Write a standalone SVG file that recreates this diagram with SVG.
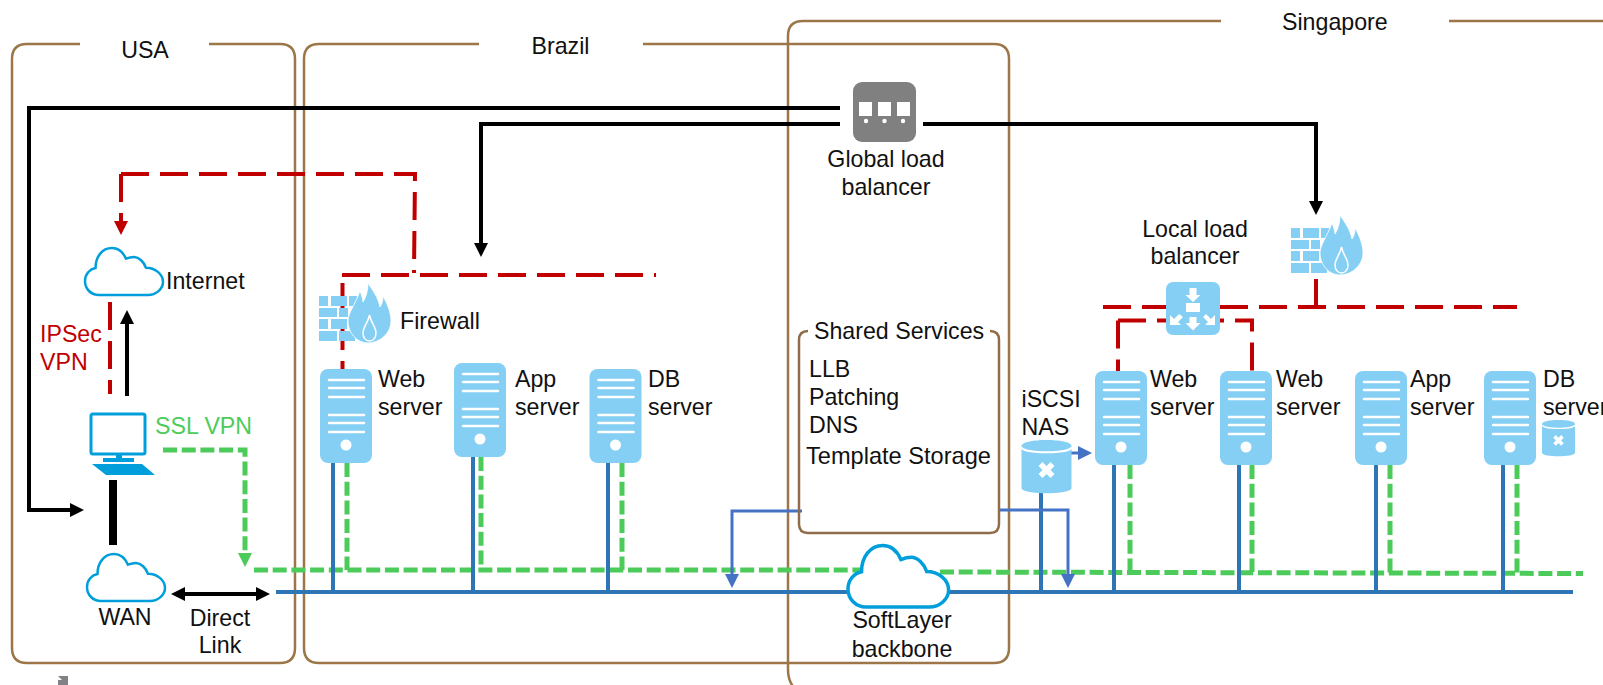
<svg xmlns="http://www.w3.org/2000/svg" width="1603" height="685" viewBox="0 0 1603 685">
<style>
text{font-family:"Liberation Sans",Arial,sans-serif;font-size:23.2px;fill:#111}
.mid{text-anchor:middle}
.region{fill:none;stroke:#9C7649;stroke-width:2.5}
.blk{fill:none;stroke:#000;stroke-width:4}
.red{fill:none;stroke:#C00000;stroke-width:4;stroke-dasharray:28 11}
.grn{fill:none;stroke:#4CCB5A;stroke-width:5;stroke-dasharray:14 4.7}
.bus{fill:none;stroke:#2E75B6;stroke-width:4}
.lnk{fill:none;stroke:#4472C4;stroke-width:3}
.cloud{fill:#fff;stroke:#009FDB;stroke-width:2.5}
.ic{fill:#85CFF5}
.wl{stroke:#fff;stroke-width:2.5;stroke-linecap:round}
</style>
<defs>
<marker id="aB" markerUnits="userSpaceOnUse" markerWidth="15" markerHeight="15" refX="8" refY="7" orient="auto-start-reverse" viewBox="0 0 15 14"><path d="M0,0L14,7L0,14Z" fill="#000"/></marker>
<marker id="aR" markerUnits="userSpaceOnUse" markerWidth="15" markerHeight="15" refX="8" refY="7" orient="auto" viewBox="0 0 15 14"><path d="M0,0L14,7L0,14Z" fill="#C00000"/></marker>
<marker id="aG" markerUnits="userSpaceOnUse" markerWidth="15" markerHeight="15" refX="8" refY="7" orient="auto" viewBox="0 0 15 14"><path d="M0,0L14,7L0,14Z" fill="#4CCB5A"/></marker>
<marker id="aL" markerUnits="userSpaceOnUse" markerWidth="15" markerHeight="15" refX="8" refY="7" orient="auto" viewBox="0 0 15 14"><path d="M0,0L14,7L0,14Z" fill="#4472C4"/></marker>
<path id="cloudp" d="M14,47C6,47 0,41 0,33C0,26 5,21 10.500,20C10.500,9 17,0 27,0C33,0 38,4 41,10.700C44,9.500 46,9 49,9C54,9 59,14 61,19.800C70,19.800 78,26 78,34C78,41 71,47 63,47Z" vector-effect="non-scaling-stroke"/>
<g id="server">
<rect width="52" height="94" rx="8" class="ic"/>
<path class="wl" d="M9,11H44M9,19H44M9,28H44M9,46H44M9,54H44M9,63H44"/>
<circle cx="26" cy="76" r="5.500" fill="#fff"/>
</g>
<g id="fw">
<path class="ic" d="M0,13h9v10h-9zM12,13h16v10h-16zM30,13h8v10h-8zM0,25h18v9h-18zM20,25h9v9h-9zM0,36h9v10h-9zM12,36h16v10h-16zM0,48h18v10h-18zM20,48h16v10h-16z"/>
<path class="ic" stroke="#fff" stroke-width=".8" d="M49,0C54,8 59,14 61,24C63,21 64,18 64,13C69,22 72,30 72,38C72,50 61,60 49,60C38,60 29,50 29,38C29,30 36,22 41,8C43,13 44,17 44,19C47,14 49,8 49,0Z"/>
<path class="ic" stroke="#fff" stroke-width="1.500" d="M50.500,32C52,40 57,44 57,50C57,55 54,58 50.500,58C47,58 44,55 44,50C44,44 49,40 50.500,32Z"/>
</g>
<g id="cyl">
<path class="ic" d="M0,6C0,-2 50,-2 50,6V48C50,55 0,55 0,48Z"/>
<path d="M0,7C0,14 50,14 50,7" fill="none" stroke="#fff" stroke-width="2"/>
<path d="M19,24L31,36M31,24L19,36" stroke="#fff" stroke-width="5.500"/>
</g>
</defs>

<g id="region-usa"><path class="region" d="M80,44H27Q12,44 12,59V648Q12,663 27,663H280Q295,663 295,648V59Q295,44 280,44H209"/></g>
<g id="region-brazil"><path class="region" d="M479,44H319Q304,44 304,59V648Q304,663 319,663H994Q1009,663 1009,648V59Q1009,44 994,44H643"/></g>
<g id="region-singapore"><path class="region" d="M1221,21H803Q788,21 788,36V670Q788,682 796,690"/><path class="region" d="M1449,21H1603"/></g>

<g id="connectors">
<path class="blk" d="M840,108H29V510H78" marker-end="url(#aB)"/>
<path class="blk" d="M840,124H481V251" marker-end="url(#aB)"/>
<path class="blk" d="M923,124H1316V209" marker-end="url(#aB)"/>
<path class="blk" d="M127,396V316" marker-end="url(#aB)"/>
<path d="M113,480V545" stroke="#000" stroke-width="8" fill="none"/>
<path class="blk" d="M177,594H264" marker-start="url(#aB)" marker-end="url(#aB)"/>
<path class="red" d="M121,174V229" marker-end="url(#aR)"/>
<path class="red" d="M121,174H415L414,273"/>
<path class="red" d="M342,275H656"/>
<path class="red" d="M342.500,283V369"/>
<path class="red" d="M110,302V394"/>
<path class="red" d="M1103,307H1517"/>
<path class="red" d="M1316,279V307" style="stroke-dasharray:none"/>
<path class="red" d="M1316,240V272" style="stroke-dasharray:6 8"/>
<path class="red" d="M1118,320.500V371"/>
<path class="red" d="M1118,320.500H1252V371"/>
<path class="grn" d="M163,450H245V561" marker-end="url(#aG)"/>
<path class="grn" d="M254,570H865"/>
<path class="grn" d="M940,572L1583,573.500"/>
<path class="grn" d="M347,463V570"/><path class="grn" d="M481,457V570"/><path class="grn" d="M622,463V570"/>
<path class="grn" d="M1130,465V572"/><path class="grn" d="M1252,465V572"/><path class="grn" d="M1390,465V573"/><path class="grn" d="M1517,465V573"/>
<path class="bus" d="M276,592H1573"/>
<path class="bus" d="M333,463V592M473,457V592M608,463V592M1041,493V592M1114,465V592M1239,465V592M1376,465V592M1503,465V592"/>
<path class="lnk" d="M802,511H732V582" marker-end="url(#aL)"/>
<path class="lnk" d="M999,510H1068V582" marker-end="url(#aL)"/>
<path class="lnk" d="M1071,453H1086" marker-end="url(#aL)"/>
</g>

<g id="internet"><use href="#cloudp" class="cloud" transform="translate(85,248)"/><text x="166" y="289">Internet</text></g>
<g id="ipsec"><text x="40" y="342" style="fill:#C00000">IPSec</text><text x="40" y="370" style="fill:#C00000">VPN</text></g>
<g id="ssl"><text x="155" y="434" style="fill:#4CCB5A">SSL VPN</text></g>
<g id="workstation">
<rect x="91" y="414" width="54" height="40" rx="2" fill="none" stroke="#009FDB" stroke-width="3"/>
<path fill="#009FDB" d="M116,455h6v3h12v4h-31v-4h13zM92,464H142L155,475H106Z"/>
</g>
<g id="wan"><use href="#cloudp" class="cloud" transform="translate(87,554)"/><text class="mid" x="125" y="625">WAN</text></g>
<g id="direct-link"><text class="mid" x="220" y="626">Direct</text><text class="mid" x="220" y="653">Link</text></g>
<path id="fragment" d="M58,676L68,676V685H58V680H62Z" fill="#808285"/>

<g id="fw-brazil"><use href="#fw" transform="translate(319,283)"/><text x="400" y="329">Firewall</text></g>
<g id="web-brazil"><use href="#server" transform="translate(320,369)"/><text x="378" y="387">Web</text><text x="378" y="415">server</text></g>
<g id="app-brazil"><use href="#server" transform="translate(454,363)"/><text x="515" y="387">App</text><text x="515" y="415">server</text></g>
<g id="db-brazil"><use href="#server" transform="translate(589.500,369)"/><text x="648" y="387">DB</text><text x="648" y="415">server</text></g>

<g id="glb">
<rect x="853" y="82" width="63" height="60" rx="9" fill="#808080"/>
<path fill="#fff" d="M859,102h13v14h-13zM878,102h13v14h-13zM897,102h13v14h-13z"/>
<circle cx="866" cy="121" r="2.200" fill="#fff"/><circle cx="884.500" cy="121" r="2.200" fill="#fff"/><circle cx="903" cy="121" r="2.200" fill="#fff"/>
<text class="mid" x="886" y="167">Global load</text><text class="mid" x="886" y="195">balancer</text>
</g>

<g id="shared">
<path fill="none" stroke="#8F6C4A" stroke-width="2.500" d="M808,331Q799,331 799,340V524Q799,533 808,533H990Q999,533 999,524V340Q999,331 990,331"/>
<text x="814" y="339">Shared Services</text>
<text x="809" y="377">LLB</text><text x="809" y="405">Patching</text><text x="809" y="433">DNS</text><text x="806" y="464" style="font-size:23.6px">Template Storage</text>
</g>

<g id="softlayer"><use href="#cloudp" class="cloud" style="stroke-width:3.500" transform="translate(848,545.500) scale(1.29,1.31)"/><text class="mid" x="902" y="628">SoftLayer</text><text class="mid" x="902" y="657">backbone</text></g>

<g id="llb">
<rect x="1166" y="282" width="54" height="53" rx="7" class="ic"/>
<path fill="#fff" d="M1189.500,288h7v7h4l-7.500,7l-7.500,-7h4zM1186,303h14v9h-14zM1189.500,317h7v6h4l-7.500,7.500l-7.500,-7.500h4zM1170,325V315L1174,319L1179,314L1183,317L1178,322L1181,325ZM1215,325V315L1211,319L1206,314L1203,317L1208,322L1205,325Z"/>
<text class="mid" x="1195" y="237">Local load</text><text class="mid" x="1195" y="264">balancer</text>
</g>
<g id="fw-sg"><use href="#fw" transform="translate(1291,215)"/></g>
<g id="nas"><use href="#cyl" transform="translate(1021.500,440)"/><text x="1021.500" y="407">iSCSI</text><text x="1021.500" y="435">NAS</text></g>
<g id="web1-sg"><use href="#server" transform="translate(1095,371)"/><text x="1150" y="387">Web</text><text x="1150" y="415">server</text></g>
<g id="web2-sg"><use href="#server" transform="translate(1220,371)"/><text x="1276" y="387">Web</text><text x="1276" y="415">server</text></g>
<g id="app-sg"><use href="#server" transform="translate(1355,371)"/><text x="1410" y="387">App</text><text x="1410" y="415">server</text></g>
<g id="db-sg"><use href="#server" transform="translate(1484,371)"/><text x="1543" y="387">DB</text><text x="1543" y="415">server</text><use href="#cyl" transform="translate(1542,420) scale(.66,.68)"/></g>

<g id="labels">
<text class="mid" x="145" y="58">USA</text>
<text x="531.500" y="54">Brazil</text>
<text x="1282" y="30">Singapore</text>
</g>
</svg>
